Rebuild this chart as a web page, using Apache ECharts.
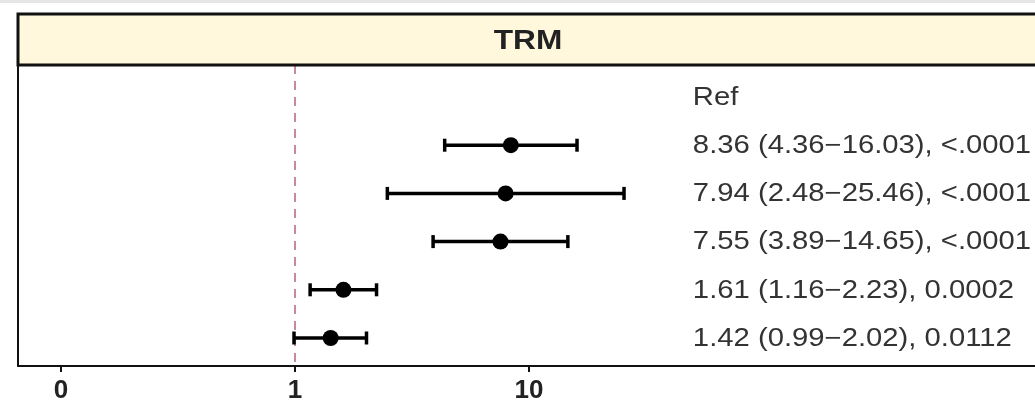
<!DOCTYPE html>
<html><head><meta charset="utf-8">
<script src="https://cdn.jsdelivr.net/npm/echarts@6/dist/echarts.min.js"></script>
<style>html,body{margin:0;padding:0;background:#fff}#c{width:1035px;height:404px}</style>
</head><body><div id="c"></div>
<script>
// ---- data ----
const rowNames = ['Ref', 'Row 1', 'Row 2', 'Row 3', 'Row 4', 'Row 5'];
const hr     = [null, 8.36, 7.94, 7.55, 1.61, 1.42];
const lower  = [null, 4.36, 2.48, 3.89, 1.16, 0.99];
const upper  = [null, 16.03, 25.46, 14.65, 2.23, 2.02];
const rowLabels = [
  'Ref',
  '8.36 (4.36\u221216.03), <.0001',
  '7.94 (2.48\u221225.46), <.0001',
  '7.55 (3.89\u221214.65), <.0001',
  '1.61 (1.16\u22122.23), 0.0002',
  '1.42 (0.99\u22122.02), 0.0112'
];
const tickValues = [0.1, 1, 10];
const tickLabels = ['0', '1', '10'];
const refValue = 1;
const panelTitle = 'TRM';

// ---- build ----
const L = v => Math.log10(v);
const errData = [], ptData = [], txtData = [];
rowNames.forEach((n, i) => {
  if (hr[i] != null) {
    errData.push([i, L(lower[i]), L(upper[i])]);
    ptData.push([L(hr[i]), i]);
  }
  txtData.push([i, rowLabels[i]]);
});
const tickLog = tickValues.map(L);
const textX = 1.70; // log-space column where the text starts
const yMin = -0.664, yMax = 5.581;

const chart = echarts.init(document.getElementById('c'), null, {renderer: 'canvas'});
chart.setOption({
  animation: false,
  backgroundColor: '#fff',
  grid: {left: 18, top: 65, right: 0, height: 301, containLabel: false},
  xAxis: {
    type: 'value', min: -1.1838, max: 3.162,
    axisLine: {show: true, onZero: false, lineStyle: {color: '#111', width: 2}},
    axisTick: {show: true, customValues: tickLog, length: 6, lineStyle: {color: '#111', width: 2}},
    axisLabel: {
      customValues: tickLog, margin: 12,
      formatter: v => { const k = tickLog.findIndex(t => Math.abs(t - v) < 1e-9); return k >= 0 ? tickLabels[k] : ''; },
      fontFamily: 'Liberation Sans', fontWeight: 'bold', fontSize: 26, color: '#222'
    },
    splitLine: {show: false}
  },
  yAxis: {
    type: 'value', inverse: true, min: yMin, max: yMax,
    axisLine: {show: true, onZero: false, lineStyle: {color: '#111', width: 2}},
    axisTick: {show: false}, axisLabel: {show: false}, splitLine: {show: false}
  },
  graphic: [
    {type: 'rect', shape: {x: 0, y: 0, width: 1035, height: 3}, style: {fill: '#e6e6e6'}, z: 0},
    {type: 'rect', shape: {x: 18, y: 14, width: 1040, height: 51}, style: {fill: '#FFF8DC', stroke: '#111', lineWidth: 3}, z: 10},
    {type: 'text', x: 528, y: 41, scaleX: 1.13, style: {text: panelTitle, fill: '#222', font: 'bold 28px "Liberation Sans"', textAlign: 'center', textVerticalAlign: 'middle'}, z: 11}
  ],
  series: [
    {
      type: 'line', data: [[L(refValue), yMin], [L(refValue), yMax]], z: 1,
      symbol: 'none', silent: true,
      lineStyle: {color: '#C7879C', width: 2, type: [9, 7]}
    },
    {
      type: 'custom', data: errData, z: 3,
      renderItem: (params, api) => {
        const y = api.value(0);
        const a = api.coord([api.value(1), y]);
        const b = api.coord([api.value(2), y]);
        const h = 6.5, st = {stroke: '#000', lineWidth: 3.5};
        return {type: 'group', children: [
          {type: 'line', shape: {x1: a[0], y1: a[1], x2: b[0], y2: b[1]}, style: st},
          {type: 'line', shape: {x1: a[0], y1: a[1] - h, x2: a[0], y2: a[1] + h}, style: st},
          {type: 'line', shape: {x1: b[0], y1: b[1] - h, x2: b[0], y2: b[1] + h}, style: st}
        ]};
      },
      encode: {x: [1, 2], y: 0}
    },
    {
      type: 'scatter', data: ptData, symbol: 'circle', symbolSize: 16, z: 4,
      itemStyle: {color: '#000', opacity: 1}
    },
    {
      type: 'custom', data: txtData, z: 5,
      renderItem: (params, api) => {
        const p = api.coord([textX, api.value(0)]);
        return {type: 'text', x: p[0], y: p[1] + 1, scaleX: 1.17, style: {
          text: rowLabels[params.dataIndex], fill: '#333',
          font: '25px "Liberation Sans"', textAlign: 'left', textVerticalAlign: 'middle'
        }};
      },
      encode: {y: 0}
    }
  ]
});
</script></body></html>
